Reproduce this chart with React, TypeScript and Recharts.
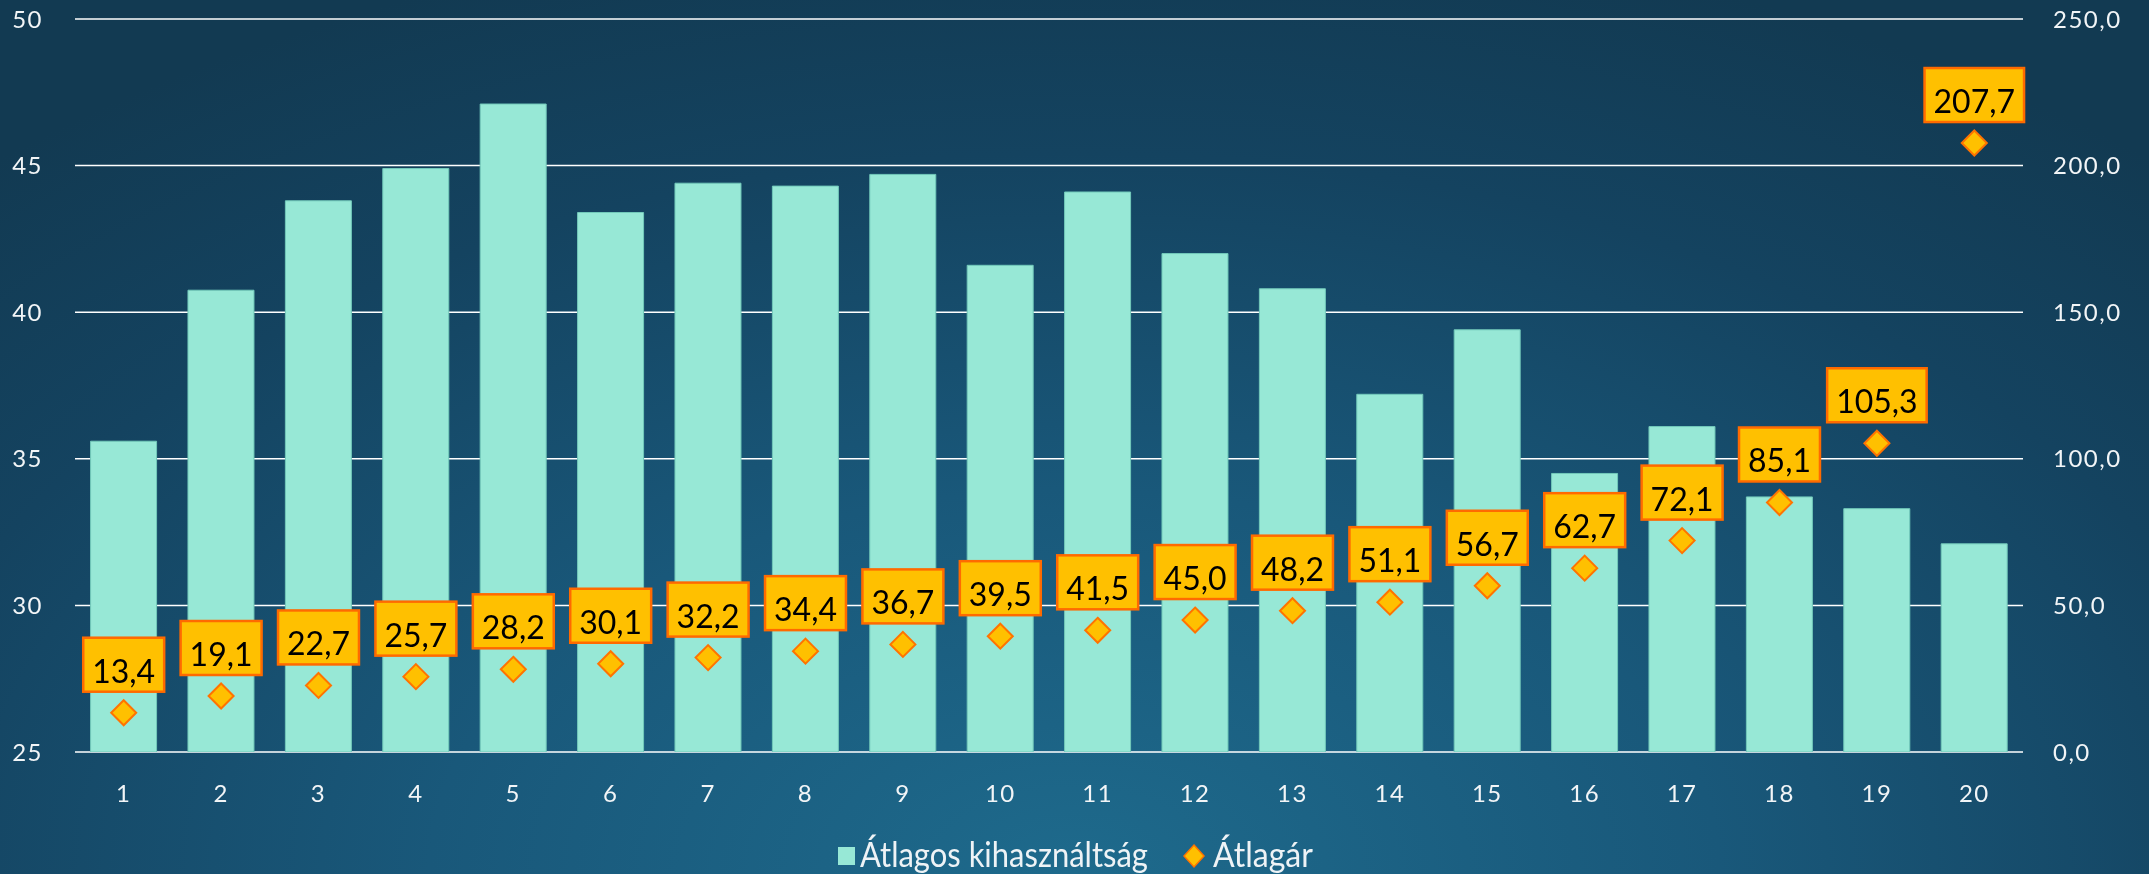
import React from "react";
import { ComposedChart, Bar, Line, XAxis, YAxis, CartesianGrid, LabelList } from "recharts";

const categories = ["1", "2", "3", "4", "5", "6", "7", "8", "9", "10", "11", "12", "13", "14", "15", "16", "17", "18", "19", "20"];
const utilization = [35.6, 40.75, 43.8, 44.9, 47.1, 43.4, 44.4, 44.3, 44.7, 41.6, 44.1, 42.0, 40.8, 37.2, 39.4, 34.5, 36.1, 33.7, 33.3, 32.1];
const avgPrice = [13.4, 19.1, 22.7, 25.7, 28.2, 30.1, 32.2, 34.4, 36.7, 39.5, 41.5, 45.0, 48.2, 51.1, 56.7, 62.7, 72.1, 85.1, 105.3, 207.7];
const leftTicks = [25, 30, 35, 40, 45, 50];
const rightTicks = [0, 50, 100, 150, 200, 250];
const seriesNames = ["Átlagos kihasználtság", "Átlagár"];

const data = categories.map((c, i) => ({ cat: c, util: utilization[i], price: avgPrice[i] }));

const fmt = (v: number) => v.toFixed(1).replace(".", ",");

let ctx: CanvasRenderingContext2D | null = null;
function measure(text: string, font: string): number {
  if (!ctx) ctx = document.createElement("canvas").getContext("2d");
  if (!ctx) return text.length * 18;
  ctx.font = font;
  return ctx.measureText(text).width;
}

const LABEL_FONT = 32;

const PriceLabel = (props: any) => {
  const { x, y, value } = props;
  if (x == null || y == null || value == null) return null;
  const text = fmt(Number(value));
  const w = measure(text, `${LABEL_FONT}px Lato`) + 18;
  const h = 54;
  const bottom = y - 21;
  return (
    <g>
      <rect x={x - w / 2} y={bottom - h} width={w} height={h} fill="#FFC000" stroke="#FF6A00" strokeWidth={2.5} />
      <text x={x} y={bottom - 9} textAnchor="middle" fontFamily="Lato" fontSize={LABEL_FONT} fill="#000000">
        {text}
      </text>
    </g>
  );
};

const Diamond = (props: any) => {
  const { cx, cy, index } = props;
  if (cx == null || cy == null) return <g key={`d-${index}`} />;
  const r = 12.5;
  return (
    <path
      key={`d-${index}`}
      d={`M${cx},${cy - r} L${cx + r},${cy} L${cx},${cy + r} L${cx - r},${cy} Z`}
      fill="#FFC000"
      stroke="#FF7300"
      strokeWidth={2}
    />
  );
};

const tickStyle = { fill: "#F2F5F7", fontFamily: "Lato", fontSize: 24, letterSpacing: 1.5 };

const LEGEND_FONT = 35;

const LegendText = ({ x, y, width, text }: { x: number; y: number; width: number; text: string }) => {
  const natural = measure(text, `${LEGEND_FONT}px Lato`);
  const sx = natural > 0 ? width / natural : 1;
  return (
    <g transform={`translate(${x},${y}) scale(${sx},1)`}>
      <text x={0} y={0} fontFamily="Lato" fontSize={LEGEND_FONT} fill="#EEF3F6">
        {text}
      </text>
    </g>
  );
};

export default function App() {
  return (
    <div
      style={{
        position: "fixed",
        left: 0,
        top: 0,
        width: 2149,
        height: 874,
        overflow: "hidden",
        background:
          "radial-gradient(ellipse 75% 110% at 50% 100%, #1E6A8C 0%, #19587A 40%, #144360 75%, #123A52 100%)",
      }}
    >
      <ComposedChart width={2149} height={874} data={data} margin={{ top: 19, right: 0, bottom: 0, left: 0 }} barCategoryGap="16%">
        <CartesianGrid vertical={false} stroke="#FFFFFF" strokeWidth={1.5} yAxisId="left" />
        <XAxis
          dataKey="cat"
          axisLine={false}
          tickLine={false}
          tickSize={0}
          tickMargin={33}
          height={122}
          tick={tickStyle}
          interval={0}
        />
        <YAxis
          yAxisId="left"
          domain={[25, 50]}
          ticks={leftTicks}
          axisLine={false}
          tickLine={false}
          tickSize={0}
          tickMargin={32}
          width={75}
          tick={tickStyle}
          allowDataOverflow
        />
        <YAxis
          yAxisId="right"
          orientation="right"
          domain={[0, 250]}
          ticks={rightTicks}
          tickFormatter={fmt}
          axisLine={false}
          tickLine={false}
          tickSize={0}
          tickMargin={30}
          width={126}
          tick={{ ...tickStyle, textAnchor: "start" }}
        />
        <Bar yAxisId="left" dataKey="util" name={seriesNames[0]} fill="#97E8D6" stroke="#72C9BA" strokeWidth={1} isAnimationActive={false} />
        <Line
          yAxisId="right"
          dataKey="price"
          name={seriesNames[1]}
          stroke="none"
          dot={Diamond}
          activeDot={false}
          isAnimationActive={false}
        >
          <LabelList dataKey="price" content={PriceLabel} />
        </Line>
      </ComposedChart>
      <svg width={2149} height={874} style={{ position: "absolute", left: 0, top: 0, pointerEvents: "none" }}>
        <rect x={838} y={847} width={17} height={18} fill="#97E8D6" />
        <LegendText x={860} y={867} width={288} text={seriesNames[0]} />
        <path d="M1194,845 L1204,856 L1194,867 L1184,856 Z" fill="#FFC000" stroke="#FF7300" strokeWidth={1.5} />
        <LegendText x={1213} y={867} width={100} text={seriesNames[1]} />
      </svg>
    </div>
  );
}
